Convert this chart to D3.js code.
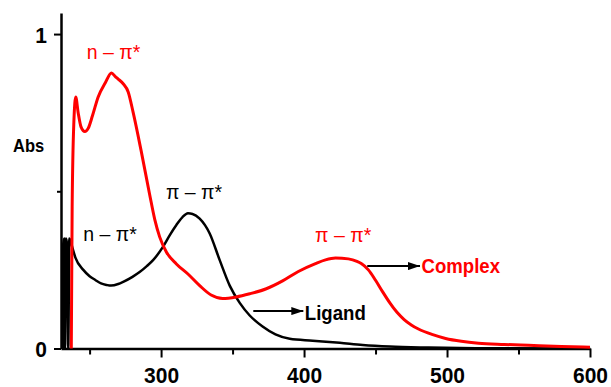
<!DOCTYPE html>
<html>
<head>
<meta charset="utf-8">
<script src="https://cdn.jsdelivr.net/npm/d3@7"></script>
<style>
  html, body { margin: 0; padding: 0; background: #fff; }
  svg { display: block; }
  text { font-family: "Liberation Sans", Arial, sans-serif; }
</style>
</head>
<body>
<svg id="chart" width="611" height="387"></svg>
<script>
// Absorption spectra (wavelength in nm, absorbance)
const complexWavelength = [237.2, 237.8, 239, 240.3, 242, 244, 246.7, 249, 252, 256, 261, 265.3, 268, 270, 273.5, 277, 280.5, 286, 292, 295.6, 299, 303.7, 310.7, 318.8, 327, 335, 343, 352.6, 362, 373.6, 385, 396, 408, 415, 422, 431, 437, 440, 445, 450, 455, 460, 465, 470, 475, 480, 490, 499, 510, 522, 540, 557, 580, 600];
const complexAbs = [0, 0.45, 0.72, 0.80, 0.75, 0.705, 0.69, 0.70, 0.74, 0.80, 0.845, 0.876, 0.865, 0.857, 0.842, 0.816, 0.75, 0.63, 0.49, 0.41, 0.355, 0.307, 0.269, 0.237, 0.2, 0.17, 0.159, 0.164, 0.174, 0.19, 0.215, 0.245, 0.27, 0.282, 0.288, 0.285, 0.277, 0.27, 0.25, 0.217, 0.18, 0.145, 0.115, 0.092, 0.075, 0.062, 0.044, 0.032, 0.023, 0.017, 0.013, 0.01, 0.006, 0.004];

const ligandWavelength = [231.2, 231.5, 232.3, 232.8, 233.5, 234.3, 235.1, 235.8, 236.8, 238, 240, 245.6, 250, 254, 258, 262, 265, 270, 273.5, 280, 285, 290, 294.4, 301.4, 306, 310.7, 315, 318.8, 322, 327, 334, 341, 348, 355, 362, 371, 380, 390, 406, 425, 441, 460, 487, 520, 600];
const ligandAbs = [0, 0.33, 0.35, 0, 0.35, 0.33, 0, 0.35, 0.34, 0.32, 0.29, 0.25, 0.23, 0.218, 0.207, 0.202, 0.2, 0.205, 0.212, 0.228, 0.243, 0.262, 0.281, 0.324, 0.36, 0.393, 0.418, 0.43, 0.428, 0.413, 0.366, 0.281, 0.2, 0.145, 0.105, 0.07, 0.045, 0.031, 0.025, 0.018, 0.011, 0.006, 0.003, 0.001, 0];

const xMajorTicks = [300, 400, 500, 600];
const xMinorTicks = [250, 350, 450, 550];
const yMajorTicks = [0, 1];
const yMinorTicks = [0.5];

// Band assignments: [text, wavelength, absorbance, colour]
const bandLabels = [
  ["n \u2013 \u03c0*", 248, 0.92, "#ff0000"],
  ["\u03c0 \u2013 \u03c0*", 303.4, 0.474, "#000"],
  ["n \u2013 \u03c0*", 245.6, 0.342, "#000"],
  ["\u03c0 \u2013 \u03c0*", 407.7, 0.34, "#ff0000"]
];
// Series callouts: [text, arrow start, arrow end, absorbance of arrow, text absorbance, colour]
const callouts = [
  ["Complex", 444.2, 481.1, 0.262, 0.241, "#ff0000"],
  ["Ligand", 364.5, 399.5, 0.119, 0.0906, "#000"]
];

const svg = d3.select("#chart");
const x = d3.scaleLinear().domain([230, 600]).range([61, 590]);
const y = d3.scaleLinear().domain([0, 1.067]).range([348.5, 13]);

const defs = svg.append("defs");
defs.append("marker")
  .attr("id", "head")
  .attr("viewBox", "0 0 12 8")
  .attr("refX", 12).attr("refY", 4)
  .attr("markerUnits", "userSpaceOnUse")
  .attr("markerWidth", 12).attr("markerHeight", 8)
  .attr("orient", "auto")
  .append("path").attr("d", "M0,0L12,4L0,8Z").attr("fill", "#000");

// Axes
const yAxis = svg.append("g").attr("transform", `translate(${x(230)},0)`)
  .call(d3.axisLeft(y).tickValues(yMajorTicks).tickSize(7).tickSizeOuter(0).tickFormat(d3.format("d")));
svg.append("g").attr("transform", `translate(${x(230)},0)`)
  .call(d3.axisLeft(y).tickValues(yMinorTicks).tickSize(4).tickSizeOuter(0).tickFormat(""))
  .select(".domain").remove();
const xAxis = svg.append("g").attr("transform", `translate(0,${y(0)})`)
  .call(d3.axisBottom(x).tickValues(xMajorTicks).tickSize(9).tickSizeOuter(0));
svg.append("g").attr("transform", `translate(0,${y(0)})`)
  .call(d3.axisBottom(x).tickValues(xMinorTicks).tickSize(6).tickSizeOuter(0).tickFormat(""))
  .select(".domain").remove();

svg.selectAll(".domain").attr("stroke", "#000").attr("stroke-width", 2.5);
svg.selectAll(".tick line").attr("stroke", "#000").attr("stroke-width", 2);

yAxis.selectAll(".tick text")
  .attr("x", null).attr("dy", null)
  .attr("transform", "translate(-14,8) scale(1,1.08)")
  .attr("font-size", 21).attr("font-weight", "bold").attr("fill", "#000")
  .attr("font-family", "Liberation Sans, Arial, sans-serif");
xAxis.selectAll(".tick text")
  .attr("y", null).attr("dy", null)
  .attr("transform", "translate(0,34) scale(1,1.08)")
  .attr("font-size", 21).attr("font-weight", "bold").attr("fill", "#000")
  .attr("font-family", "Liberation Sans, Arial, sans-serif");

svg.append("text")
  .attr("transform", "translate(13,152.3) scale(1,1.12)")
  .attr("font-size", 16.5).attr("font-weight", "bold").text("Abs");

// Spectra
const line = d3.line().x(d => x(d[0])).y(d => y(d[1])).curve(d3.curveMonotoneX);
svg.append("path")
  .datum(ligandWavelength.map((w, i) => [w, ligandAbs[i]]))
  .attr("d", line).attr("fill", "none").attr("stroke", "#000").attr("stroke-width", 2.5)
  .attr("stroke-linejoin", "round");
svg.append("path")
  .datum(complexWavelength.map((w, i) => [w, complexAbs[i]]))
  .attr("d", line).attr("fill", "none").attr("stroke", "#ff0000").attr("stroke-width", 3)
  .attr("stroke-linejoin", "round");

// Band assignments
svg.selectAll(".band").data(bandLabels).join("text")
  .attr("class", "band")
  .attr("transform", d => `translate(${x(d[1])},${y(d[2])}) scale(1,1.05)`)
  .attr("font-size", 19.5).attr("fill", d => d[3]).text(d => d[0]);

// Callouts
callouts.forEach(c => {
  svg.append("line")
    .attr("x1", x(c[1])).attr("x2", x(c[2]))
    .attr("y1", y(c[3])).attr("y2", y(c[3]))
    .attr("stroke", "#000").attr("stroke-width", 2)
    .attr("marker-end", "url(#head)");
  svg.append("text")
    .attr("transform", `translate(${x(c[2]) + 1.5},${y(c[4])}) scale(1,1.12)`)
    .attr("font-size", 18.6).attr("font-weight", "bold").attr("fill", c[5]).text(c[0]);
});
</script>
</body>
</html>
